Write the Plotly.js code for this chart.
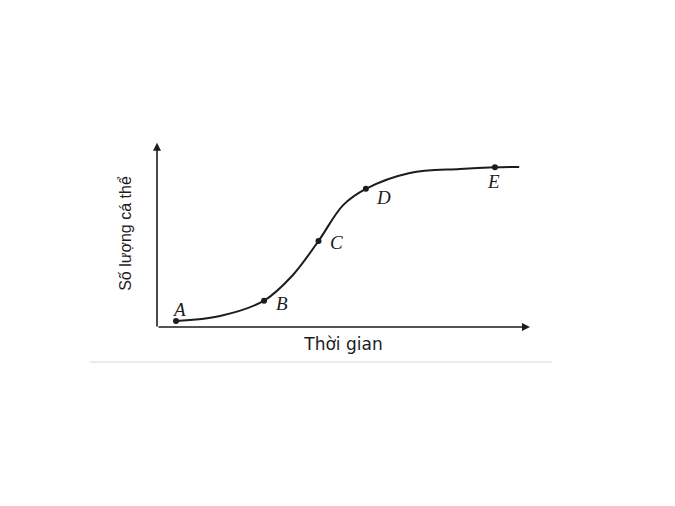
<!DOCTYPE html>
<html>
<head>
<meta charset="utf-8">
<script src="https://cdn.plot.ly/plotly-3.0.1.min.js"></script>
<style>html,body{margin:0;padding:0;background:#fff;}#chart{width:675px;height:506px;}</style>
</head>
<body>
<div id="chart"></div>
<script>
// Curve (time vs population size)
const curveX = [5.1, 16.9, 28.7, 36.2, 43.3, 49.9, 56.0, 67.8, 81.2, 90.6, 97.1];
const curveY = [3.2, 5.9, 14.1, 27.3, 46.0, 65.2, 73.9, 82.4, 84.5, 85.4, 85.6];
// Marked points
const pointNames = ["A", "B", "C", "D", "E"];
const pointX = [5.1, 28.7, 43.3, 56.0, 90.6];
const pointY = [3.2, 14.1, 46.0, 73.9, 85.4];
// Label positions for the points
const labelX = [5.8, 33.4, 48.0, 60.8, 90.3];
const labelY = [9.1, 12.8, 45.3, 69.3, 77.8];
const xTitle = "Thời gian";
const yTitle = "Số lượng cá thể";

const ink = "#1c1c1c";

const traces = [
  {x: curveX, y: curveY, mode: "lines", type: "scatter",
   line: {color: ink, width: 2, shape: "spline", smoothing: 1}, hoverinfo: "skip"},
  {x: pointX, y: pointY, mode: "markers", type: "scatter",
   marker: {color: ink, size: 6}, hoverinfo: "skip"}
];

const annotations = pointNames.map((n, i) => ({
  x: labelX[i], y: labelY[i], xref: "x", yref: "y", text: n, showarrow: false,
  font: {family: "Liberation Serif, Times New Roman, serif", size: 19, color: ink, style: "italic"}
}));
// axis arrows
annotations.push({x: 100, y: 0, ax: 0, ay: 0, xref: "x", yref: "y", axref: "x", ayref: "y",
  text: "", showarrow: true, arrowhead: 2, arrowsize: 1, arrowwidth: 1.6, arrowcolor: ink, standoff: 0, startstandoff: 0});
annotations.push({x: 0, y: 98.5, ax: 0, ay: -0.5, xref: "x", yref: "y", axref: "x", ayref: "y",
  text: "", showarrow: true, arrowhead: 2, arrowsize: 1, arrowwidth: 1.6, arrowcolor: ink, standoff: 0, startstandoff: 0});

const layout = {
  width: 675, height: 506,
  margin: {l: 157, r: 145, t: 140, b: 179},
  paper_bgcolor: "#fff", plot_bgcolor: "#fff",
  showlegend: false,
  xaxis: {range: [0, 100], showgrid: false, zeroline: false, showline: false, showticklabels: false, ticks: "",
    title: {text: xTitle, standoff: 11, font: {family: "DejaVu Sans, Liberation Sans, sans-serif", size: 17, color: ink}}},
  yaxis: {range: [0, 100], showgrid: false, zeroline: false, showline: false, showticklabels: false, ticks: "",
    title: {text: yTitle, standoff: 20, font: {family: "Liberation Sans Narrow, Arial Narrow, Liberation Sans, sans-serif", size: 16, color: ink}}},
  annotations: annotations,
  shapes: [{type: "line", xref: "paper", yref: "paper", x0: -0.18, x1: 1.059, y0: -0.187, y1: -0.187,
    line: {color: "#e4e4e4", width: 1.5}}]
};

Plotly.newPlot("chart", traces, layout, {displayModeBar: false, staticPlot: true});
</script>
</body>
</html>
